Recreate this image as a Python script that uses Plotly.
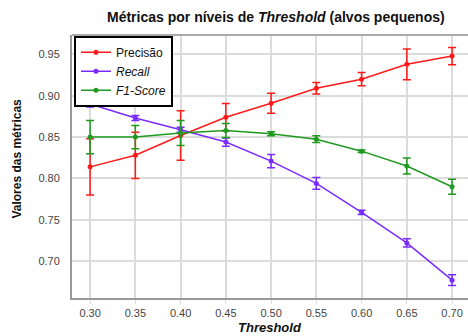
import plotly.graph_objects as go

thresholds = [0.30, 0.35, 0.40, 0.45, 0.50, 0.55, 0.60, 0.65, 0.70]

precisao = [0.814, 0.828, 0.852, 0.874, 0.891, 0.909, 0.920, 0.938, 0.948]
precisao_err = [0.034, 0.028, 0.030, 0.0165, 0.012, 0.007, 0.008, 0.0185, 0.0105]

recall = [0.890, 0.873, 0.859, 0.844, 0.821, 0.794, 0.759, 0.722, 0.677]
recall_err = [0.0035, 0.003, 0.003, 0.005, 0.008, 0.007, 0.0025, 0.005, 0.0065]

f1 = [0.850, 0.850, 0.855, 0.858, 0.854, 0.8475, 0.833, 0.815, 0.790]
f1_err = [0.020, 0.014, 0.015, 0.0085, 0.0025, 0.004, 0.0015, 0.0097, 0.009]

series = [
    ("Precisão", precisao, precisao_err, "#ff1a1a"),
    ("<i>Recall</i>", recall, recall_err, "#7a2bff"),
    ("<i>F1-Score</i>", f1, f1_err, "#1f9a1f"),
]

fig = go.Figure()
for name, vals, errs, col in series:
    fig.add_trace(go.Scatter(
        x=thresholds, y=vals, name=name, mode="lines+markers",
        line=dict(color=col, width=1.5),
        marker=dict(color=col, size=5, symbol="circle"),
        error_y=dict(type="data", array=errs, visible=True,
                     color=col, thickness=1.5, width=4),
    ))

fig.update_layout(
    width=468, height=336,
    margin=dict(l=72, r=0, t=35, b=38, autoexpand=False),
    paper_bgcolor="white", plot_bgcolor="white",
    font=dict(family="Liberation Sans, Arial, sans-serif", size=11, color="#444"),
    showlegend=True,
    legend=dict(x=0.005, y=0.997, xanchor="left", yanchor="top",
                bgcolor="white", bordercolor="black", borderwidth=2,
                font=dict(size=12, color="#111"), itemwidth=30,
                tracegroupgap=0),
    xaxis=dict(range=[0.28, 0.7176], tickvals=thresholds, automargin=False,
               tickformat=".2f", showgrid=True, gridcolor="#dcdcdc", gridwidth=1.5,
               showline=True, linecolor="#999", linewidth=2,
               ticks="outside", ticklen=4, tickcolor="#dcdcdc",
               zeroline=False),
    yaxis=dict(range=[0.6554, 0.9735], tickvals=[0.70, 0.75, 0.80, 0.85, 0.90, 0.95],
               automargin=False,
               tickformat=".2f", showgrid=True, gridcolor="#dcdcdc", gridwidth=1.5,
               showline=True, linecolor="#999", linewidth=2,
               ticks="", ticklabelstandoff=8, zeroline=False),
    shapes=[dict(type="line", xref="paper", yref="paper", x0=0, x1=1, y0=1, y1=1,
                 line=dict(color="#aaa", width=2))],
    annotations=[
        dict(text="<b>Métricas por níveis de <i>Threshold</i> (alvos pequenos)</b>",
             xref="paper", yref="paper", x=0.515, y=1.0, yshift=18,
             xanchor="center", yanchor="middle", showarrow=False,
             font=dict(size=14, color="#111")),
        dict(text="<b>Valores das métricas</b>", textangle=-90,
             xref="paper", yref="paper", x=0, xshift=-55, y=0.53,
             xanchor="center", yanchor="middle", showarrow=False,
             font=dict(size=12, color="#111")),
        dict(text="<b><i>Threshold</i></b>",
             xref="paper", yref="paper", x=0.5, y=0, yshift=-29,
             xanchor="center", yanchor="middle", showarrow=False,
             font=dict(size=13, color="#111")),
    ],
)

fig.write_html("out.html", config={"displayModeBar": False},
               post_script="document.body.style.margin='0';document.body.style.padding='0';")
